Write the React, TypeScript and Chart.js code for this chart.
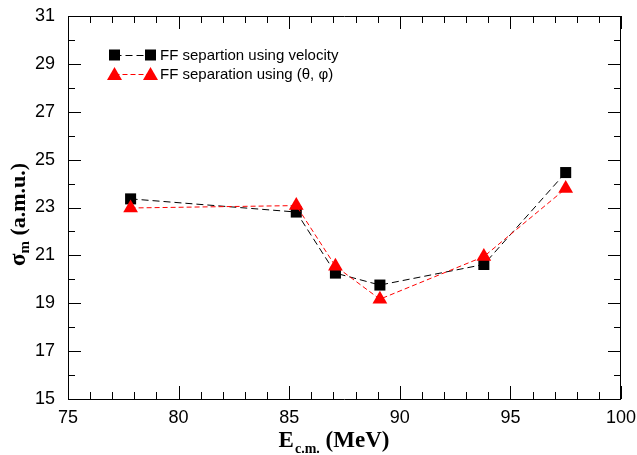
import React, { useEffect, useRef } from "react";
import { Chart, registerables } from "chart.js";

Chart.register(...registerables);

// ---- data ----
const energies = [77.83, 85.32, 87.09, 89.1, 93.8, 97.5];
const sigmaVelocity = [23.36, 22.81, 20.26, 19.76, 20.62, 24.46];
const sigmaAngles = [22.98, 23.08, 20.55, 19.17, 20.95, 23.79];
const seriesLabels = ["FF separtion using velocity", "FF separation using (\u03B8, \u03C6)"];
const xTickValues = [75, 80, 85, 90, 95, 100];
const yTickValues = [15, 17, 19, 21, 23, 25, 27, 29, 31];
const xTitleMain = "E";
const xTitleSub = "c.m.";
const xTitleRest = " (MeV)";
const yTitleMain = "\u03C3";
const yTitleSub = "m";
const yTitleRest = " (a.m.u.)";

const X_MIN = 75, X_MAX = 100, Y_MIN = 15, Y_MAX = 31;
const SANS = "'Liberation Sans', Arial, sans-serif";
const SERIF = "'Liberation Serif', 'Times New Roman', serif";

const framePlugin = {
  id: "frameAndTitles",
  afterDraw(chart: any) {
    const { ctx, chartArea: a, scales } = chart;
    const x = scales.x, y = scales.y;
    ctx.save();
    ctx.strokeStyle = "#000";
    ctx.lineWidth = 1;
    ctx.beginPath();
    ctx.rect(a.left + 0.5, a.top + 0.5, a.right - a.left - 1, a.bottom - a.top);
    ctx.stroke();
    ctx.beginPath();
    for (let v = X_MIN; v <= X_MAX; v++) {
      const px = Math.round(x.getPixelForValue(v)) + 0.5;
      const len = v % 5 === 0 ? 13 : 7;
      ctx.moveTo(px, a.bottom);
      ctx.lineTo(px, a.bottom - len);
      ctx.moveTo(px, a.top);
      ctx.lineTo(px, a.top + len);
    }
    for (let v = Y_MIN; v <= Y_MAX; v++) {
      const py = Math.round(y.getPixelForValue(v)) + 0.5;
      const len = v % 2 === 1 ? 13 : 7;
      ctx.moveTo(a.left, py);
      ctx.lineTo(a.left + len, py);
      ctx.moveTo(a.right, py);
      ctx.lineTo(a.right - len, py);
    }
    ctx.stroke();

    // legend
    const ds = chart.data.datasets;
    const rows = [
      { d: ds[1], y: 55 },
      { d: ds[0], y: 74 },
    ];
    const mx1 = 114.5, mx2 = 150.5;
    rows.forEach(({ d, y: ry }) => {
      ctx.strokeStyle = d.borderColor;
      ctx.lineWidth = 1;
      ctx.setLineDash(d.borderDash);
      ctx.beginPath();
      ctx.moveTo(mx1, ry + 0.5);
      ctx.lineTo(mx2, ry + 0.5);
      ctx.stroke();
      ctx.setLineDash([]);
      ctx.fillStyle = d.backgroundColor;
      [mx1, mx2].forEach((cx) => {
        ctx.beginPath();
        if (d.pointStyle === "rect") {
          ctx.rect(cx - 5.5, ry - 5.5, 11, 11);
        } else {
          ctx.moveTo(cx, ry - 7);
          ctx.lineTo(cx + 7.5, ry + 6);
          ctx.lineTo(cx - 7.5, ry + 6);
          ctx.closePath();
        }
        ctx.fill();
      });
      ctx.fillStyle = "#000";
      ctx.font = `15px ${SANS}`;
      ctx.textBaseline = "middle";
      ctx.textAlign = "left";
      ctx.fillText(d.label, 160, ry + 1);
    });

    // x title
    ctx.fillStyle = "#000";
    ctx.textAlign = "left";
    ctx.textBaseline = "alphabetic";
    const big = `bold 23px ${SERIF}`;
    const small = `bold 14px ${SERIF}`;
    ctx.font = big;
    const wE = ctx.measureText(xTitleMain).width;
    const wR = ctx.measureText(xTitleRest).width;
    ctx.font = small;
    const wS = ctx.measureText(xTitleSub).width;
    const cx = (a.left + a.right) / 2 - 11;
    let sx = cx - (wE + wS + wR) / 2;
    const by = 447;
    ctx.font = big;
    ctx.fillText(xTitleMain, sx, by);
    sx += wE + 1;
    ctx.font = small;
    ctx.fillText(xTitleSub, sx, by + 6);
    sx += wS;
    ctx.font = big;
    ctx.fillText(xTitleRest, sx, by);

    // y title
    ctx.save();
    const cy = (a.top + a.bottom) / 2 + 7;
    ctx.translate(25, cy);
    ctx.rotate(-Math.PI / 2);
    const ybig = `bold 22px ${SERIF}`;
    const sig = `bold 23px ${SERIF}`;
    const ysmall = `bold 15px ${SERIF}`;
    ctx.font = sig;
    const w1 = ctx.measureText(yTitleMain).width;
    ctx.font = ysmall;
    const w2 = ctx.measureText(yTitleSub).width;
    ctx.font = ybig;
    const w3 = ctx.measureText(yTitleRest).width;
    let tx = -(w1 + w2 + w3) / 2;
    ctx.font = sig;
    ctx.fillText(yTitleMain, tx, 0);
    tx += w1;
    ctx.font = ysmall;
    ctx.fillText(yTitleSub, tx, 4);
    tx += w2;
    ctx.font = ybig;
    ctx.fillText(yTitleRest, tx, 0);
    ctx.restore();

    ctx.restore();
  },
};

export default function App() {
  const canvasRef = useRef<HTMLCanvasElement | null>(null);

  useEffect(() => {
    if (!canvasRef.current) return;
    const chart = new Chart(canvasRef.current, {
      type: "line",
      data: {
        datasets: [
          {
            label: seriesLabels[1],
            data: energies.map((e, i) => ({ x: e, y: sigmaAngles[i] })),
            borderColor: "#ff0000",
            backgroundColor: "#ff0000",
            borderWidth: 1,
            borderDash: [5, 3],
            pointStyle: "triangle",
            pointRadius: 8.5,
            pointBorderWidth: 0,
            pointBackgroundColor: "#ff0000",
            tension: 0,
            order: 0,
          },
          {
            label: seriesLabels[0],
            data: energies.map((e, i) => ({ x: e, y: sigmaVelocity[i] })),
            borderColor: "#000000",
            backgroundColor: "#000000",
            borderWidth: 1,
            borderDash: [7, 4],
            pointStyle: "rect",
            pointRadius: 7.8,
            pointBorderWidth: 0,
            pointBackgroundColor: "#000000",
            tension: 0,
            order: 1,
          },
        ],
      },
      options: {
        responsive: false,
        animation: false,
        devicePixelRatio: 1,
        layout: { padding: { top: 16, right: 16, left: 0, bottom: 0 } },
        plugins: { legend: { display: false }, tooltip: { enabled: false } },
        scales: {
          x: {
            type: "linear",
            min: X_MIN,
            max: X_MAX,
            grid: { display: false, drawTicks: false },
            border: { display: false },
            afterBuildTicks: (s: any) => {
              s.ticks = xTickValues.map((v) => ({ value: v }));
            },
            afterFit: (s: any) => {
              s.height = 56;
              s.paddingLeft = 0;
              s.paddingRight = 0;
            },
            ticks: {
              color: "#000",
              font: { family: SANS, size: 18 },
              padding: 8,
              maxRotation: 0,
              autoSkip: false,
            },
          },
          y: {
            type: "linear",
            min: Y_MIN,
            max: Y_MAX,
            grid: { display: false, drawTicks: false },
            border: { display: false },
            afterBuildTicks: (s: any) => {
              s.ticks = yTickValues.map((v) => ({ value: v }));
            },
            afterFit: (s: any) => {
              s.width = 68;
              s.paddingTop = 0;
              s.paddingBottom = 0;
            },
            ticks: {
              color: "#000",
              font: { family: SANS, size: 18 },
              padding: 13,
              autoSkip: false,
            },
          },
        },
      },
      plugins: [framePlugin],
    } as any);
    return () => chart.destroy();
  }, []);

  return (
    <div style={{ position: "fixed", left: 0, top: 0, width: 637, height: 455, background: "#fff" }}>
      <canvas ref={canvasRef} width={637} height={455} style={{ display: "block" }} />
    </div>
  );
}
